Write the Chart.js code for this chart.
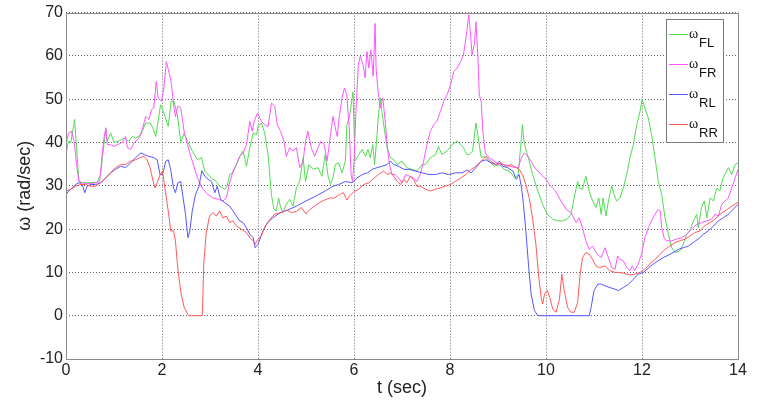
<!DOCTYPE html>
<html>
<head>
<meta charset="utf-8">
<script src="https://cdn.jsdelivr.net/npm/chart.js@4.4.0/dist/chart.umd.min.js"></script>
<style>
    html, body { margin: 0; padding: 0; background: #fff; }
    #wrap { width: 763px; height: 404px; }
</style>
</head>
<body>
<div id="wrap"><canvas id="chart" width="763" height="404"></canvas></div>
<script>
// velocidades das rodas (t em s, omega em rad/s)
const seriesNames = ['FL', 'FR', 'RL', 'RR'];
const seriesColors = ['#50dc50', '#ff55ff', '#5555ff', '#ff5a5a'];

const tFL = [0,0.05,0.1,0.18,0.24,0.27,0.35,0.5,0.65,0.72,
    0.79,0.83,0.86,0.93,1.0,1.1,1.21,1.31,1.38,1.45,
    1.56,1.66,1.76,1.82,1.87,1.97,2.04,2.13,2.19,2.25,
    2.32,2.39,2.46,2.53,2.63,2.74,2.82,2.89,3.03,3.13,
    3.2,3.31,3.36,3.41,3.48,3.55,3.62,3.69,3.76,3.83,
    3.9,3.97,4.0,4.07,4.14,4.21,4.28,4.33,4.38,4.43,
    4.47,4.52,4.59,4.66,4.73,4.8,4.87,4.94,4.99,5.06,
    5.15,5.25,5.33,5.4,5.46,5.51,5.56,5.61,5.68,5.75,
    5.82,5.85,5.9,5.93,5.98,6.02,6.1,6.17,6.24,6.29,
    6.34,6.39,6.43,6.48,6.51,6.55,6.58,6.62,6.65,6.69,
    6.76,6.83,6.9,7.0,7.1,7.21,7.31,7.42,7.49,7.59,
    7.7,7.76,7.83,7.94,8.04,8.15,8.22,8.28,8.35,8.4,
    8.47,8.54,8.58,8.61,8.65,8.72,8.82,8.92,9.03,9.13,
    9.24,9.35,9.42,9.47,9.51,9.54,9.6,9.65,9.72,9.83,
    9.93,10.03,10.14,10.24,10.35,10.44,10.52,10.6,10.66,10.69,
    10.76,10.83,10.9,10.97,11.04,11.1,11.15,11.19,11.25,11.3,
    11.37,11.42,11.47,11.54,11.61,11.68,11.75,11.82,11.89,11.96,
    12.0,12.06,12.13,12.2,12.27,12.34,12.41,12.48,12.55,12.62,
    12.69,12.79,12.86,12.93,13.0,13.07,13.14,13.17,13.24,13.3,
    13.35,13.42,13.49,13.56,13.62,13.69,13.8,13.87,13.94,14.0];
const wFL = [37.2,40.3,40,45.3,35.7,31,30.7,30.7,30.8,32.6,
    39.5,43,40.3,42.2,40,40.3,41,40.3,41.4,41,
    41.8,44.5,44.5,43,41.4,48.7,46.8,43.7,49.5,49.5,
    46.4,40,42.2,40.3,38,36,36.5,33.4,31.8,31,
    29.9,29.2,30,32.6,33,34.9,36.8,38,34.5,38.8,
    42.2,41.8,43.7,44.5,42.2,37.2,28,24.6,24.2,27.2,
    25,23.8,25.7,26.9,25.3,29.5,31,36.5,31,34.9,
    33.8,34.2,32.2,37.2,32.2,30.3,31.8,34.9,35.3,33,
    35.7,44,45.7,47.8,51.7,35.7,37.2,38.4,36.8,38.4,
    36.5,39.5,34.9,41.8,46.4,50.3,47.2,44,41.8,38.8,
    36.5,36,34.9,35.7,34.2,33.8,33.4,34.9,34.9,36.5,
    37.2,39.1,37.2,38,39.5,40.3,39.5,38.8,37.2,37.2,
    38,44.5,41.8,39.5,36.5,36.8,35.7,34.5,34.9,33.8,
    33.4,31.8,32.6,38.8,44.1,40.3,37.6,35.7,32.6,28.8,
    25.7,23.4,22.3,21.9,21.9,22.3,23.4,28,31,29.5,
    29.2,32.2,28.8,26.5,25,27.2,23.4,27.2,23,26.5,
    29.9,28,26.5,27.2,29.5,32.6,36.5,39.5,44.1,47.2,
    49.9,48,45.7,41.8,36.5,31,28,22.6,18.8,15.7,
    14.6,15,16.5,18.8,19.6,21.9,23.4,20.3,25,26.5,
    22.6,27.2,26.5,29.5,28.8,31.8,34.2,32.6,34.9,35.3];

const tFR = [0,0.05,0.11,0.17,0.22,0.27,0.4,0.55,0.7,0.79,
    0.83,0.86,0.93,1.0,1.07,1.17,1.24,1.28,1.35,1.42,
    1.52,1.59,1.66,1.73,1.78,1.83,1.88,1.92,1.99,2.04,
    2.09,2.15,2.19,2.25,2.28,2.33,2.39,2.46,2.53,2.63,
    2.74,2.85,2.96,3.06,3.17,3.27,3.34,3.41,3.48,3.55,
    3.62,3.69,3.76,3.83,3.88,3.92,3.99,4.07,4.14,4.21,
    4.28,4.35,4.4,4.47,4.54,4.59,4.66,4.73,4.8,4.87,
    4.94,4.99,5.04,5.11,5.18,5.25,5.31,5.38,5.44,5.51,
    5.56,5.61,5.65,5.69,5.75,5.8,5.85,5.9,5.94,5.97,
    6.0,6.04,6.09,6.13,6.19,6.23,6.27,6.31,6.35,6.4,
    6.44,6.46,6.5,6.55,6.6,6.65,6.69,6.74,6.79,6.86,
    6.93,7.0,7.08,7.16,7.24,7.31,7.38,7.45,7.52,7.59,
    7.66,7.73,7.8,7.87,7.94,8.01,8.08,8.15,8.22,8.28,
    8.35,8.39,8.42,8.46,8.51,8.54,8.58,8.61,8.65,8.68,
    8.72,8.75,8.82,8.92,9.03,9.13,9.24,9.35,9.42,9.49,
    9.55,9.62,9.69,9.76,9.83,9.9,10.0,10.1,10.2,10.31,
    10.42,10.52,10.63,10.69,10.76,10.83,10.9,10.97,11.04,11.15,
    11.23,11.3,11.37,11.44,11.49,11.54,11.61,11.68,11.75,11.8,
    11.85,11.92,11.99,12.06,12.13,12.2,12.27,12.34,12.38,12.41,
    12.46,12.51,12.62,12.72,12.83,12.93,13.03,13.14,13.24,13.35,
    13.45,13.52,13.59,13.66,13.73,13.8,13.87,13.94,14.0];
const wFR = [39.5,42.2,42.6,40.3,34.9,31,30.5,30.5,31,41,
    43.4,39.5,39.5,39.1,39.5,40,41.4,38.8,38.4,40,
    41,43,46,45.3,47.6,48,54.1,50.3,49.5,52.6,
    58.7,56,54.1,48,46,48.4,48,42.6,39.5,35.7,
    31.8,29.2,28,27.2,26.9,26.5,27.2,30.7,33.4,34.9,
    36.8,37.6,39.5,44.9,42.6,44.9,46.8,44.9,44.1,43.7,
    49.1,48.4,44.1,42.6,40.3,36.8,38.8,38,38.8,34.2,
    35.7,40.3,42.6,38.8,36.8,38.8,40.3,39.5,35.7,41.8,
    46,43.4,41.4,45.7,50.3,52.6,51,43.4,32.6,31,
    35.7,47.2,57.9,59.9,57.9,54.9,61,57.2,61.4,55.3,
    67.5,57.2,51.8,48,50.3,44.9,39.5,34.9,32.6,32.6,
    31.8,30.7,32.6,32.2,31.8,31,32.6,35.7,39.5,42.6,
    44.1,44.9,47.2,49.5,51,53.3,56.4,57.2,58.7,60.2,
    65.6,69.5,66,60.2,62.9,67.9,60.2,51,49.5,43.4,
    38.8,37.2,36.5,35.7,34.9,34.9,34.5,34.2,34.2,36.5,
    37.6,36.8,35.7,34.2,33.4,32.6,31.5,29.9,28.8,26.5,
    24.6,23.8,21.5,22.6,20.3,17.3,15.3,16.1,14.6,13.4,
    15.7,13.4,11.1,10.7,13.8,13,12.7,11.1,10.4,11.5,
    10.4,11.9,14.2,18,20.3,21.9,23.4,24.6,24.2,20.3,
    18,17.3,17.3,17.7,18,18.8,20,21.1,21.5,21.9,
    22.3,23.4,23,25.7,26.5,27.2,29.5,31.8,33.8];

const tRL = [0,0.06,0.13,0.2,0.27,0.34,0.39,0.44,0.51,0.62,
    0.72,0.83,0.93,1.03,1.14,1.24,1.35,1.45,1.56,1.63,
    1.73,1.83,1.9,1.96,2.01,2.08,2.13,2.18,2.24,2.28,
    2.33,2.39,2.44,2.49,2.54,2.58,2.63,2.7,2.77,2.83,
    2.89,2.96,3.03,3.1,3.15,3.22,3.31,3.41,3.48,3.55,
    3.62,3.69,3.76,3.83,3.9,3.94,4.0,4.1,4.2,4.3,
    4.46,4.6,4.8,5.0,5.2,5.4,5.56,5.68,5.82,5.96,
    6.06,6.17,6.28,6.38,6.48,6.58,6.69,6.76,6.83,6.93,
    7.04,7.14,7.28,7.42,7.56,7.7,7.83,7.97,8.11,8.25,
    8.35,8.44,8.54,8.65,8.75,8.85,8.96,9.03,9.1,9.2,
    9.31,9.38,9.44,9.49,9.53,9.58,9.64,9.69,9.76,9.83,
    10.9,10.94,11.0,11.08,11.15,11.23,11.33,11.44,11.51,11.61,
    11.72,11.82,11.92,12.03,12.13,12.24,12.34,12.44,12.55,12.65,
    12.76,12.86,12.97,13.07,13.17,13.28,13.38,13.49,13.59,13.69,
    13.8,13.9,14.0];
const wRL = [28,28.8,29.5,30.3,30.7,30.3,28.4,29.9,30.3,30.3,
    30.7,31.8,33,33.8,34.5,34.2,35.3,36.5,37.6,37.2,
    36.8,36.5,36,32.6,32.6,35.7,36,33.8,29.5,28.4,
    30.7,31,27.2,23.4,18,19.6,24.2,28,29.9,33.5,
    32.2,31.5,31,28.4,29.9,26.9,26.1,25.3,24.2,23,
    21.9,21.5,20.3,18.8,18,15.7,16.5,19.5,21.5,22.5,
    23.8,24.3,25.3,26.5,27.6,28.8,29.9,30.3,31,30.7,
    31.8,32.6,33,33.8,34.2,34.5,34.9,35.7,34.9,34.5,
    33.8,33.8,33.4,33,32.6,32.6,33,32.6,33,33,
    33.6,33,34.2,35.7,36,35.3,34.9,35.7,34.5,34.2,
    33.4,31.5,32.6,29.5,25.7,19.6,11.1,5,1.2,0,
    0,1.9,5.8,7.3,7.3,6.9,6.5,6.1,5.8,6.5,
    7.3,8.4,9.6,10,11,12,12.7,13.4,14,14.6,
    15.3,15.7,16.1,16.9,17.7,18.8,19.6,20.7,21.9,22.6,
    23.4,24.6,25.7];

const tRR = [0,0.1,0.2,0.31,0.41,0.51,0.62,0.72,0.83,0.93,
    1.03,1.14,1.24,1.35,1.45,1.56,1.63,1.69,1.75,1.8,
    1.85,1.9,1.96,2.01,2.06,2.1,2.15,2.18,2.24,2.28,
    2.32,2.35,2.4,2.46,2.55,2.84,2.87,2.92,2.99,3.06,
    3.13,3.2,3.27,3.34,3.41,3.48,3.55,3.65,3.76,3.83,
    3.9,3.94,4.0,4.07,4.14,4.25,4.35,4.46,4.6,4.7,
    4.8,4.9,5.0,5.08,5.2,5.3,5.4,5.5,5.6,5.7,
    5.78,5.85,5.92,6.0,6.1,6.2,6.31,6.42,6.51,6.62,
    6.69,6.76,6.83,6.9,6.97,7.04,7.1,7.17,7.24,7.31,
    7.38,7.49,7.59,7.7,7.8,7.9,8.01,8.11,8.22,8.33,
    8.44,8.54,8.65,8.75,8.85,8.96,9.06,9.17,9.27,9.38,
    9.44,9.51,9.58,9.65,9.72,9.79,9.85,9.9,9.93,9.97,
    10.03,10.08,10.14,10.21,10.28,10.33,10.38,10.45,10.52,10.59,
    10.66,10.71,10.76,10.83,10.9,10.97,11.04,11.11,11.23,11.33,
    11.44,11.54,11.65,11.75,11.85,11.96,12.06,12.17,12.27,12.38,
    12.48,12.58,12.69,12.79,12.9,13.0,13.1,13.21,13.3,13.42,
    13.52,13.62,13.73,13.83,14.0];
const wRR = [28.8,29.2,29.9,30.3,30.3,29.9,29.9,30.7,31.8,33,
    34.2,34.9,34.9,35.7,36,36.6,36.8,36,34.2,31.8,
    29.5,30.7,32.6,33.4,29.5,26.5,22.6,19.6,19.6,17.3,
    12,9,5,2,0,0,12,19,23,23.8,
    23,24.2,22.6,23,21.5,21.9,20.7,20,19.2,18,
    17.3,16.5,17.7,18.4,20.5,22.3,23.5,23.7,24.4,23.8,
    24.1,25,23.5,24.5,25.5,26.2,26.8,27.2,27.2,28,
    28.4,26.7,27.8,28.7,29.2,30.3,30.7,31.8,32.6,33.4,
    32.6,33,32.2,31,30.3,31.5,30.7,32.2,31.5,29.9,
    29.9,29.2,28.8,29.2,29.5,29.9,30.3,31,31.8,32.6,
    33.8,34.5,35.7,36.8,35.7,34.9,35.3,34.5,34.9,34.2,
    33.8,32.6,30.3,27.2,22.6,16.5,8.8,4.2,2.7,5,
    5.8,4.2,1.5,0.8,3.8,9.6,5.8,1.9,0.8,0.8,
    3.1,9.6,13.4,14.6,14.2,13,11.5,11.1,11.5,10.4,
    10,10,9.7,9.4,9.6,10,10.8,12,13,14.2,
    15.3,16.1,16.9,17.3,17.7,18.4,19.2,19.6,20.7,21.5,
    22.3,23.4,24.2,25,26.2];

const seriesT = [tFL, tFR, tRL, tRR];
const seriesW = [wFL, wFR, wRL, wRR];

const tickFont = { family: '"Liberation Sans", Arial, sans-serif', size: 16 };
const titleFont = { family: '"Liberation Sans", Arial, sans-serif', size: 18 };

// moldura do eixo (estilo matlab)
const axesBox = {
    id: 'axesBox',
    afterDatasetsDraw(chart) {
        const { ctx, chartArea: a } = chart;
        ctx.save();
        ctx.strokeStyle = '#8a8a8a';
        ctx.lineWidth = 1;
        ctx.strokeRect(Math.round(a.left) + 0.5, Math.round(a.top) + 0.5,
            Math.round(a.right - a.left), Math.round(a.bottom - a.top));
        ctx.restore();
    }
};

// legenda com subscrito
const subLegend = {
    id: 'subLegend',
    afterDraw(chart) {
        const ctx = chart.ctx;
        ctx.save();
        ctx.fillStyle = '#fff';
        ctx.fillRect(666, 19, 57, 123);
        ctx.strokeStyle = '#7a7a7a';
        ctx.lineWidth = 1;
        ctx.strokeRect(666.5, 19.5, 57, 123);
        chart.data.datasets.forEach((ds, i) => {
            const y = 34.5 + i * 30;
            ctx.strokeStyle = ds.borderColor;
            ctx.beginPath();
            ctx.moveTo(669, y);
            ctx.lineTo(688, y);
            ctx.stroke();
            ctx.fillStyle = '#111';
            ctx.textBaseline = 'alphabetic';
            ctx.font = '14px "Liberation Serif", serif';
            ctx.fillText('ω', 689, y + 3);
            ctx.font = '13px "Liberation Sans", Arial, sans-serif';
            ctx.fillText(seriesNames[i], 699, y + 12.5);
        });
        ctx.restore();
    }
};

const ctx = document.getElementById('chart').getContext('2d');
const chart = new Chart(ctx, {
    type: 'line',
    data: {
        datasets: seriesNames.map((name, i) => ({
            label: 'ω' + name,
            data: seriesT[i].map((t, j) => ({ x: t, y: seriesW[i][j] })),
            borderColor: seriesColors[i],
            borderWidth: 1,
            pointRadius: 0,
            tension: 0,
            fill: false,
            order: 4 - i
        }))
    },
    options: {
        responsive: false,
        animation: false,
        layout: { padding: { top: 11, right: 25, left: 0, bottom: 0 } },
        plugins: {
            legend: { display: false },
            tooltip: { enabled: false }
        },
        scales: {
            x: {
                type: 'linear',
                min: 0,
                max: 14,
                ticks: { stepSize: 2, font: tickFont, color: '#222', padding: 2, maxRotation: 0 },
                grid: { color: '#666', drawTicks: false },
                border: { display: false, dash: [1, 2] },
                title: { display: true, text: 't (sec)', font: titleFont, color: '#222', padding: { top: 0, bottom: 5 } },
                afterFit: s => { s.height = 45; }
            },
            y: {
                min: -10,
                max: 70,
                ticks: { stepSize: 10, font: tickFont, color: '#222', padding: 3 },
                grid: { color: '#666', drawTicks: false },
                border: { display: false, dash: [1, 2] },
                title: { display: true, text: 'ω (rad/sec)', font: titleFont, color: '#222', padding: { top: 14, bottom: 0 } },
                afterFit: s => { s.width = 66; }
            }
        }
    },
    plugins: [axesBox, subLegend]
});
</script>
</body>
</html>
